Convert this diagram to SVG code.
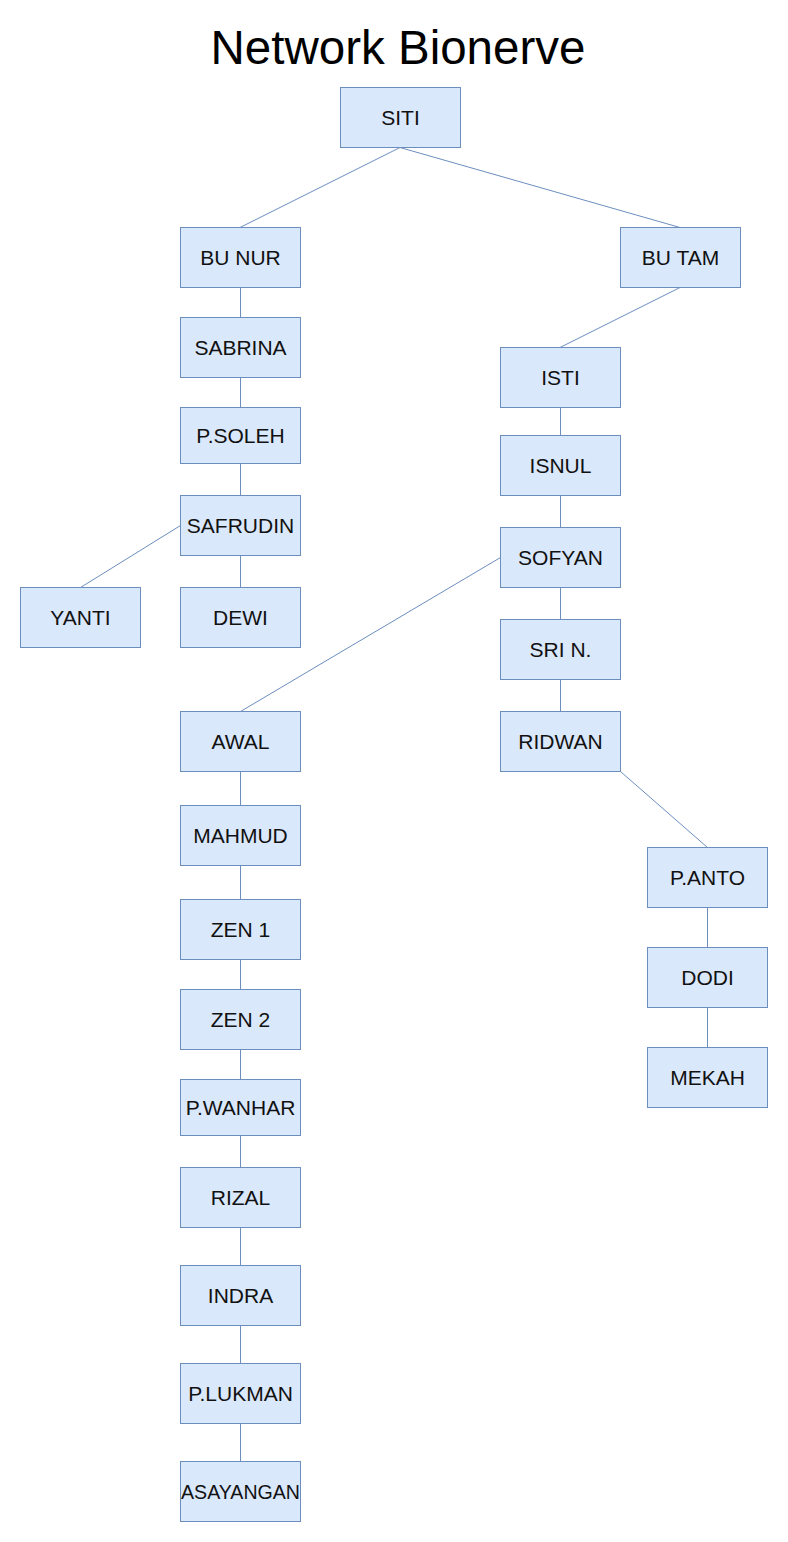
<svg xmlns="http://www.w3.org/2000/svg" width="788" height="1542" viewBox="0 0 788 1542">
<style>
.n rect{fill:#dae8fc;stroke:#6c8ebf;stroke-width:1}
.n text{font-family:"Liberation Sans",Arial,sans-serif;font-size:21px;fill:#111;text-anchor:middle}
#edges line{stroke:#6c8ebf;stroke-width:1;fill:none}
.title{font-family:"Liberation Sans",Arial,sans-serif;font-size:47.5px;fill:#000;text-anchor:middle}
</style>
<rect width="788" height="1542" fill="#fff"/>
<text class="title" x="398" y="64">Network Bionerve</text>
<g id="edges">
<line x1="400" y1="147.5" x2="240" y2="227.5"/>
<line x1="400" y1="147.5" x2="680" y2="227.5"/>
<line x1="240.5" y1="287.5" x2="240.5" y2="317.5"/>
<line x1="240.5" y1="377.5" x2="240.5" y2="407.5"/>
<line x1="240.5" y1="463.5" x2="240.5" y2="495.5"/>
<line x1="180.5" y1="525.5" x2="80.5" y2="587.5"/>
<line x1="240.5" y1="555.5" x2="240.5" y2="587.5"/>
<line x1="680" y1="287.5" x2="560" y2="347.5"/>
<line x1="560.5" y1="407.5" x2="560.5" y2="435.5"/>
<line x1="560.5" y1="495.5" x2="560.5" y2="527.5"/>
<line x1="560.5" y1="587.5" x2="560.5" y2="619.5"/>
<line x1="560.5" y1="679.5" x2="560.5" y2="711.5"/>
<line x1="500.5" y1="557.5" x2="240.5" y2="711.5"/>
<line x1="620.5" y1="771.5" x2="707.5" y2="847.5"/>
<line x1="707.5" y1="907.5" x2="707.5" y2="947.5"/>
<line x1="707.5" y1="1007.5" x2="707.5" y2="1047.5"/>
<line x1="240.5" y1="771.5" x2="240.5" y2="805.5"/>
<line x1="240.5" y1="865.5" x2="240.5" y2="899.5"/>
<line x1="240.5" y1="959.5" x2="240.5" y2="989.5"/>
<line x1="240.5" y1="1049.5" x2="240.5" y2="1079.5"/>
<line x1="240.5" y1="1135.5" x2="240.5" y2="1167.5"/>
<line x1="240.5" y1="1227.5" x2="240.5" y2="1265.5"/>
<line x1="240.5" y1="1325.5" x2="240.5" y2="1363.5"/>
<line x1="240.5" y1="1423.5" x2="240.5" y2="1461.5"/>
</g>
<g id="siti" class="n"><rect x="340.5" y="87.5" width="120" height="60"/><text x="400.5" y="125">SITI</text></g>
<g id="bunur" class="n"><rect x="180.5" y="227.5" width="120" height="60"/><text x="240.5" y="265">BU NUR</text></g>
<g id="butam" class="n"><rect x="620.5" y="227.5" width="120" height="60"/><text x="680.5" y="265">BU TAM</text></g>
<g id="sabrina" class="n"><rect x="180.5" y="317.5" width="120" height="60"/><text x="240.5" y="355">SABRINA</text></g>
<g id="psoleh" class="n"><rect x="180.5" y="407.5" width="120" height="56"/><text x="240.5" y="443">P.SOLEH</text></g>
<g id="safrudin" class="n"><rect x="180.5" y="495.5" width="120" height="60"/><text x="240.5" y="533">SAFRUDIN</text></g>
<g id="yanti" class="n"><rect x="20.5" y="587.5" width="120" height="60"/><text x="80.5" y="625">YANTI</text></g>
<g id="dewi" class="n"><rect x="180.5" y="587.5" width="120" height="60"/><text x="240.5" y="625">DEWI</text></g>
<g id="isti" class="n"><rect x="500.5" y="347.5" width="120" height="60"/><text x="560.5" y="385">ISTI</text></g>
<g id="isnul" class="n"><rect x="500.5" y="435.5" width="120" height="60"/><text x="560.5" y="473">ISNUL</text></g>
<g id="sofyan" class="n"><rect x="500.5" y="527.5" width="120" height="60"/><text x="560.5" y="565">SOFYAN</text></g>
<g id="srin" class="n"><rect x="500.5" y="619.5" width="120" height="60"/><text x="560.5" y="657">SRI N.</text></g>
<g id="ridwan" class="n"><rect x="500.5" y="711.5" width="120" height="60"/><text x="560.5" y="749">RIDWAN</text></g>
<g id="panto" class="n"><rect x="647.5" y="847.5" width="120" height="60"/><text x="707.5" y="885">P.ANTO</text></g>
<g id="dodi" class="n"><rect x="647.5" y="947.5" width="120" height="60"/><text x="707.5" y="985">DODI</text></g>
<g id="mekah" class="n"><rect x="647.5" y="1047.5" width="120" height="60"/><text x="707.5" y="1085">MEKAH</text></g>
<g id="awal" class="n"><rect x="180.5" y="711.5" width="120" height="60"/><text x="240.5" y="749">AWAL</text></g>
<g id="mahmud" class="n"><rect x="180.5" y="805.5" width="120" height="60"/><text x="240.5" y="843">MAHMUD</text></g>
<g id="zen1" class="n"><rect x="180.5" y="899.5" width="120" height="60"/><text x="240.5" y="937">ZEN 1</text></g>
<g id="zen2" class="n"><rect x="180.5" y="989.5" width="120" height="60"/><text x="240.5" y="1027">ZEN 2</text></g>
<g id="pwanhar" class="n"><rect x="180.5" y="1079.5" width="120" height="56"/><text x="240.5" y="1115">P.WANHAR</text></g>
<g id="rizal" class="n"><rect x="180.5" y="1167.5" width="120" height="60"/><text x="240.5" y="1205">RIZAL</text></g>
<g id="indra" class="n"><rect x="180.5" y="1265.5" width="120" height="60"/><text x="240.5" y="1303">INDRA</text></g>
<g id="plukman" class="n"><rect x="180.5" y="1363.5" width="120" height="60"/><text x="240.5" y="1401">P.LUKMAN</text></g>
<g id="asayangan" class="n"><rect x="180.5" y="1461.5" width="120" height="60"/><text x="240.5" y="1499" textLength="119" lengthAdjust="spacingAndGlyphs">ASAYANGAN</text></g>
</svg>
